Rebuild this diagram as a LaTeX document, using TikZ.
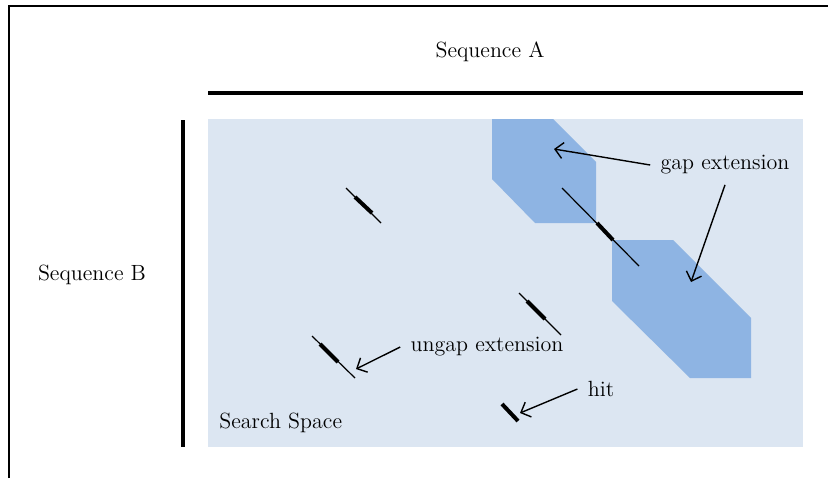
\documentclass[tikz,border=0pt]{standalone}
\usetikzlibrary{arrows,arrows.meta}
\definecolor{spacebg}{HTML}{DCE6F2}
\definecolor{gapfill}{HTML}{8EB4E3}
\tikzset{hitline/.style={line width=2pt},
  extline/.style={line width=0.6pt},
  lbl/.style={font=\fontsize{11}{13}\selectfont, inner sep=5pt},
  pointer/.style={-{Straight Barb[length=4pt,width=8pt]}, line width=0.7pt}}

\begin{document}
\begin{tikzpicture}[x=0.5pt,y=-0.5pt]
      \useasboundingbox (0,0) rectangle (828,478);
      \draw [line width=0.8pt] (9,478) -- (9,6) -- (828,6);
      % sequences
      \node [lbl] (seqa) at (490,52) {Sequence A};
      \node [lbl] (seqb) at (92,275) {Sequence B};
      \draw [line width=2pt] (208,93) -- (803,93);
      \draw [line width=2pt] (183,120) -- (183,447);
      % search space
      \fill [spacebg] (208,119) rectangle (803,447);
      \node [lbl, anchor=west, inner sep=0pt] (space) at (219,423) {Search Space};
      \fill [gapfill] (492,119) -- (553,119) -- (596,162) -- (596,223) -- (535,223) -- (492,179) -- cycle;
      \fill [gapfill] (612,240) -- (673,240) -- (751,318) -- (751,378) -- (690,378) -- (612,301) -- cycle;
      % hits
      \draw [extline] (562,188) -- (639,266);
      \draw [hitline] (597,223) -- (613,240);
      \draw [extline] (346,188) -- (381,223);
      \draw [hitline] (355,197) -- (372,213);
      \draw [extline] (312,336) -- (355,378);
      \draw [hitline] (320,344) -- (338,362);
      \draw [extline] (519,293) -- (561,335);
      \draw [hitline] (527,301) -- (545,319);
      \draw [hitline] (502,404) -- (518,421);
      % labels
      \node [lbl] (gapext) at (725,165) {gap extension};
      \node [lbl] (ungapext) at (487,347) {ungap extension};
      \node [lbl] (hitlbl) at (601,389) {hit};
      \coordinate (gaptipa) at (554,149);
      \coordinate (gaptipb) at (691,282);
      \coordinate (ungaptip) at (356,369);
      \coordinate (hittip) at (520,413);
      \draw [pointer] (gapext.west) -- (gaptipa);
      \draw [pointer] (gapext.south) -- (gaptipb);
      \draw [pointer] (ungapext.west) -- (ungaptip);
      \draw [pointer] (hitlbl.west) -- (hittip);
    \end{tikzpicture}
\end{document}
